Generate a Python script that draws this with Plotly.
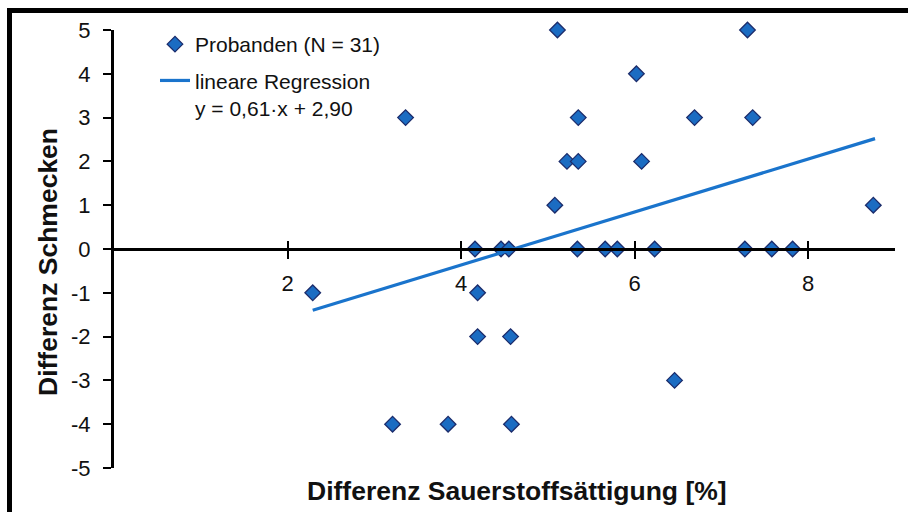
import plotly.graph_objects as go

# ---- data ----
diff_sat = [5.11, 7.30, 6.02, 5.35, 6.69, 7.36, 3.36, 5.22, 5.35, 6.08, 5.08, 8.75,
            4.16, 4.46, 4.55, 5.34, 5.66, 5.80, 6.23, 7.27, 7.58, 7.82,
            2.29, 4.19, 4.19, 4.57, 6.46, 3.21, 3.85, 4.58]
diff_taste = [5, 5, 4, 3, 3, 3, 3, 2, 2, 2, 1, 1,
              0, 0, 0, 0, 0, 0, 0, 0, 0, 0,
              -1, -1, -2, -2, -3, -4, -4, -4]
reg_x = [2.29, 8.77]
reg_y = [-1.40, 2.52]
x_ticks = [2, 4, 6, 8]
x_labels = ["2", "4", "6", "8"]
y_ticks = [-5, -4, -3, -2, -1, 0, 1, 2, 3, 4, 5]
y_labels = ["-5", "-4", "-3", "-2", "-1", "0", "1", "2", "3", "4", "5"]

scatter_name = "Probanden (N = 31)"
reg_name = "lineare Regression<br>y = 0,61·x + 2,90"
x_title = "Differenz Sauerstoffsättigung [%]"
y_title = "Differenz Schmecken"

# ---- layout geometry (pixels) ----
W, H = 908, 512
ML, MR, MT, MB = 114, 13, 30, 44
PW, PH = W - ML - MR, H - MT - MB


def px(xp):
    return (xp - ML) / PW


def py(yp):
    return (H - MB - yp) / PH


FONT = "Liberation Sans, Arial, sans-serif"
MARK_FILL = "#1b6cc2"
MARK_EDGE = "#1c2c6b"
LINE_COL = "#1a74cc"

fig = go.Figure()
fig.add_trace(go.Scatter(
    x=diff_sat, y=diff_taste, mode="markers", name=scatter_name,
    marker=dict(symbol="diamond", size=12, color=MARK_FILL,
                line=dict(color=MARK_EDGE, width=1.3)),
    legendgroup="a", cliponaxis=False,
))
fig.add_trace(go.Scatter(
    x=reg_x, y=reg_y, mode="lines", name=reg_name,
    line=dict(color=LINE_COL, width=3.2), xaxis="x2",
    legendgroup="b",
))

fig.update_layout(
    width=W, height=H,
    margin=dict(l=ML, r=MR, t=MT, b=MB),
    paper_bgcolor="white", plot_bgcolor="white",
    font=dict(family=FONT, color="#111111", size=21),
    showlegend=True,
    legend=dict(x=px(155), y=py(24), xanchor="left", yanchor="top",
                font=dict(size=21, family=FONT), bgcolor="rgba(0,0,0,0)",
                traceorder="grouped", tracegroupgap=6, valign="top"),
    xaxis=dict(range=[0, 9], anchor="free", position=0.5,
               showline=True, linecolor="black", linewidth=3,
               tickvals=x_ticks, ticktext=x_labels, ticks="outside",
               ticklen=8, tickwidth=2, ticklabelstandoff=6,
               tickcolor="black", showgrid=False, zeroline=False,
               tickfont=dict(size=22, family=FONT)),
    xaxis2=dict(range=[0, 9], matches="x", overlaying="x", anchor="free",
                position=0.5, side="top",
                showline=False, tickvals=x_ticks, ticks="outside", ticklen=8,
                tickwidth=2, tickcolor="black", showticklabels=False,
                showgrid=False, zeroline=False),
    yaxis=dict(range=[-5, 5], showline=True, linecolor="black", linewidth=3,
               tickvals=y_ticks, ticktext=y_labels, ticks="outside",
               ticklen=8, tickwidth=2, ticklabelstandoff=8,
               tickcolor="black", showgrid=False, zeroline=False,
               tickfont=dict(size=22, family=FONT)),
)

fig.add_annotation(text=f"<b>{x_title}</b>", xref="paper", yref="paper",
                   x=px(517), y=py(491), xanchor="center", yanchor="middle",
                   showarrow=False, font=dict(size=26.5, family=FONT, color="#111111"))
fig.add_annotation(text=f"<b>{y_title}</b>", xref="paper", yref="paper",
                   x=px(48), y=py(262), xanchor="center", yanchor="middle",
                   textangle=-90, showarrow=False,
                   font=dict(size=26.5, family=FONT, color="#111111"))

# black frame (top and left) around the figure
fig.add_shape(type="line", xref="paper", yref="paper",
              x0=px(7), x1=px(W + 5), y0=py(10.5), y1=py(10.5),
              line=dict(color="black", width=5))
fig.add_shape(type="line", xref="paper", yref="paper",
              x0=px(9.5), x1=px(9.5), y0=py(8), y1=py(H + 5),
              line=dict(color="black", width=5))

fig.write_html("out.html")
